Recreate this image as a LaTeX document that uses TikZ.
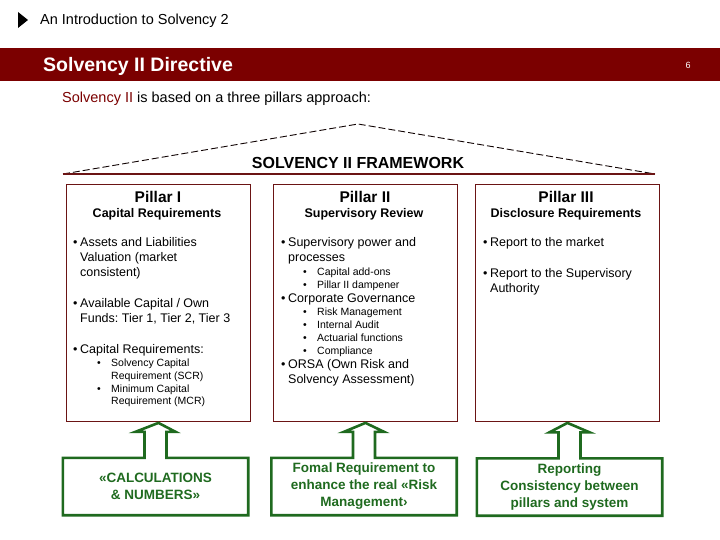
\documentclass[tikz,border=0pt]{standalone}
\usepackage{fontspec}
\setmainfont{Liberation Sans}
\usetikzlibrary{calc}
\frenchspacing

\definecolor{bannerred}{HTML}{7B0000}
\definecolor{framered}{HTML}{6B1414}
\definecolor{notegreen}{HTML}{1F6A1F}

\newcommand{\bul}{\makebox[7pt][l]{\textbullet}}
\newcommand{\subbul}{\makebox[14pt][l]{\textbullet}}

\tikzset{
  txt/.style={anchor=mid west, inner sep=0pt, font=\fontsize{12.5}{14}\selectfont},
  subtxt/.style={anchor=mid west, inner sep=0pt, font=\fontsize{10.5}{12}\selectfont},
  head/.style={inner sep=0pt, font=\bfseries\fontsize{15.5}{17}\selectfont},
  subhead/.style={inner sep=0pt, font=\bfseries\fontsize{12.5}{14}\selectfont},
  pillarbox/.style={draw=framered, line width=0.9pt, minimum width=184pt, minimum height=237pt, inner sep=0pt},
  notebox/.style={text=notegreen, font=\bfseries\fontsize{13.5}{17}\selectfont, align=center,
    inner sep=0pt, minimum width=185pt, minimum height=57pt},
  noteline/.style={draw=notegreen, line width=2.6pt, line join=miter},
}

\begin{document}
\begin{tikzpicture}[x=1pt,y=-1pt]
  \useasboundingbox (0,0) rectangle (720,540);

  % page header
  \fill (18,12) -- (28,20) -- (18,28) -- cycle;
  \node[anchor=mid west, inner sep=0pt, font=\fontsize{14.5}{16}\selectfont] (intro) at (40,22) {An Introduction to Solvency 2};
  \fill[bannerred] (0,48) rectangle (720,81);
  \node[anchor=mid west, inner sep=0pt, text=white, font=\bfseries\fontsize{19.5}{22}\selectfont] (title) at (43,69) {Solvency II Directive};
  \node[inner sep=0pt, text=white, font=\fontsize{9}{10}\selectfont] (pagenum) at (688,65) {6};
  \node[anchor=mid west, inner sep=0pt, font=\fontsize{14.5}{16}\selectfont] (lead) at (62,100) {\textcolor{bannerred}{Solvency II} is based on a three pillars approach:};

  % roof
  \draw[black!85!framered, line width=0.9pt, dash pattern=on 7pt off 3pt] (63,174) -- (358,124) -- (655,174);
  \draw[framered, line width=1.2pt] (63,174) -- (655,174);
  \node[inner sep=0pt, font=\bfseries\fontsize{16}{18}\selectfont] (frame) at (358,163) {SOLVENCY II FRAMEWORK};

  % pillars
  \node[pillarbox, anchor=north west] (pI) at (66,184) {};
  \node[pillarbox, anchor=north west] (pII) at (273,184) {};
  \node[pillarbox, anchor=north west] (pIII) at (475,184) {};

  \node[head] (hI) at (158,197) {Pillar I};
  \node[subhead] (shI) at (157,214) {Capital Requirements};
  \node[txt] (aI1) at (73,244) {\bul Assets and Liabilities};
  \node[txt] (aI2) at (80,259) {Valuation (market};
  \node[txt] (aI3) at (80,274) {consistent)};
  \node[txt] (aI4) at (73,305) {\bul Available Capital / Own};
  \node[txt] (aI5) at (80,320) {Funds: Tier 1, Tier 2, Tier 3};
  \node[txt] (aI6) at (73,351) {\bul Capital Requirements:};
  \node[subtxt] (aI7) at (97,364) {\subbul Solvency Capital};
  \node[subtxt] (aI8) at (111,377) {Requirement (SCR)};
  \node[subtxt] (aI9) at (97,390) {\subbul Minimum Capital};
  \node[subtxt] (aI10) at (111,402) {Requirement (MCR)};

  \node[head] (hII) at (365,197) {Pillar II};
  \node[subhead] (shII) at (364,214) {Supervisory Review};
  \node[txt] (aII1) at (281,244) {\bul Supervisory power and};
  \node[txt] (aII2) at (288,259) {processes};
  \node[subtxt] (aII3) at (303,273) {\subbul Capital add-ons};
  \node[subtxt] (aII4) at (303,286) {\subbul Pillar II dampener};
  \node[txt] (aII5) at (281,300) {\bul Corporate Governance};
  \node[subtxt] (aII6) at (303,313) {\subbul Risk Management};
  \node[subtxt] (aII7) at (303,326) {\subbul Internal Audit};
  \node[subtxt] (aII8) at (303,339) {\subbul Actuarial functions};
  \node[subtxt] (aII9) at (303,352) {\subbul Compliance};
  \node[txt] (aII10) at (281,366) {\bul ORSA (Own Risk and};
  \node[txt] (aII11) at (288,381) {Solvency Assessment)};

  \node[head] (hIII) at (566,197) {Pillar III};
  \node[subhead] (shIII) at (566,214) {Disclosure Requirements};
  \node[txt] (aIII1) at (483,244) {\bul Report to the market};
  \node[txt] (aIII2) at (483,275) {\bul Report to the Supervisory};
  \node[txt] (aIII3) at (490,290) {Authority};

  % notes under the pillars
  \node[notebox] (nI) at (155.5,486.5) {«CALCULATIONS\\\& NUMBERS»};
  \node[notebox] (nII) at (364,486.5) {Fomal Requirement to\\enhance the real «Risk\\Management›};
  \node[notebox] (nIII) at (569.5,487) {Reporting\\Consistency between\\pillars and system};

  \draw[noteline] (nI.north west) -- ($(nI.north)+(-11,0)$) -- ($(nI.north)+(-11,-26)$)
    -- ($(nI.north)+(-20,-26)$) -- ($(pI.south)+(0,1)$) -- ($(nI.north)+(20,-26)$)
    -- ($(nI.north)+(11,-26)$) -- ($(nI.north)+(11,0)$) -- (nI.north east)
    -- (nI.south east) -- (nI.south west) -- cycle;
  \draw[noteline] (nII.north west) -- ($(nII.north)+(-11,0)$) -- ($(nII.north)+(-11,-26)$)
    -- ($(nII.north)+(-20,-26)$) -- ($(pII.south)+(0,1)$) -- ($(nII.north)+(20,-26)$)
    -- ($(nII.north)+(11,-26)$) -- ($(nII.north)+(11,0)$) -- (nII.north east)
    -- (nII.south east) -- (nII.south west) -- cycle;
  \draw[noteline] (nIII.north west) -- ($(nIII.north)+(-11,0)$) -- ($(nIII.north)+(-11,-26)$)
    -- ($(nIII.north)+(-20,-26)$) -- ($(pIII.south)+(0,1)$) -- ($(nIII.north)+(20,-26)$)
    -- ($(nIII.north)+(11,-26)$) -- ($(nIII.north)+(11,0)$) -- (nIII.north east)
    -- (nIII.south east) -- (nIII.south west) -- cycle;
\end{tikzpicture}
\end{document}
